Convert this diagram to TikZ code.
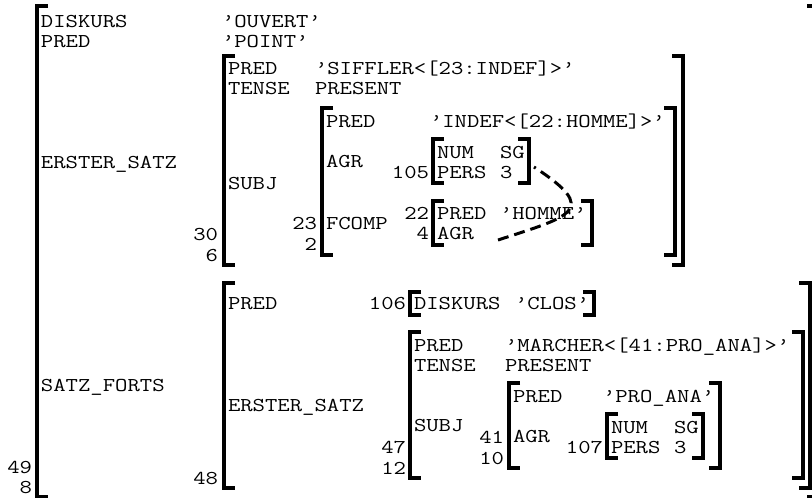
\documentclass[tikz,border=0pt]{standalone}
\tikzset{
  t/.style={anchor=base west, inner sep=0pt, outer sep=0pt, yshift=-6pt, xscale=1.225, font=\fontsize{19.6}{20}\selectfont\ttfamily},
  tl/.style={t, anchor=base east},
  brk/.style={line width=3.2pt, line join=miter},
  share/.style={line width=3pt, dash pattern=on 11pt off 6pt}
}
\newcommand\LB[3]{\draw[brk] (#1+11,#2) -- (#1,#2) -- (#1,#3) -- (#1+11,#3);}
\newcommand\RB[3]{\draw[brk] (#1-11,#2) -- (#1,#2) -- (#1,#3) -- (#1-11,#3);}
\begin{document}
\begin{tikzpicture}[x=1pt,y=-1pt]
\useasboundingbox (0,0) rectangle (812,498);
% ---------- outer f-structure
\LB{37}{6}{497}
\RB{818}{6}{497}
\node[t] (o1a) at (41,21) {DISKURS};
\node[t] (o1v) at (222,21) {’OUVERT’};
\node[t] (o2a) at (41,41.5) {PRED};
\node[t] (o2v) at (222,41.5) {’POINT’};
\node[t] (o3a) at (41,162) {ERSTER\_SATZ};
\node[t] (o4a) at (41,385.5) {SATZ\_FORTS};
\node[tl] (l49) at (32,467) {49};
\node[tl] (l8) at (32,487.5) {8};
% ---------- ERSTER_SATZ value (30/6)
\LB{224}{56}{265}
\RB{683}{56}{265}
\node[t] (a1a) at (228,68) {PRED};
\node[t] (a1v) at (315,68) {’SIFFLER<[23:INDEF]>’};
\node[t] (a2a) at (228,88.5) {TENSE};
\node[t] (a2v) at (315,88.5) {PRESENT};
\node[t] (a3a) at (228,183.5) {SUBJ};
\node[tl] (l30) at (218,234.5) {30};
\node[tl] (l6) at (218,255) {6};
% ---------- SUBJ value (23/2)
\LB{322}{108}{255}
\RB{675}{108}{255}
\node[t] (b1a) at (326,121.5) {PRED};
\node[t] (b1v) at (430,121.5) {’INDEF<[22:HOMME]>’};
\node[t] (b2a) at (326,161) {AGR};
\node[t] (b3a) at (326,223) {FCOMP};
\node[tl] (l23) at (317,223) {23};
\node[tl] (l2) at (317,244) {2};
% ---------- AGR value (105)
\LB{433}{139}{183}
\RB{529}{139}{183}
\node[t] (c1a) at (437,152) {NUM};
\node[t] (c1v) at (500,152) {SG};
\node[t] (c2a) at (437,172.5) {PERS};
\node[t] (c2v) at (500,172.5) {3};
\node[tl] (l105) at (429,172.5) {105};
% ---------- FCOMP value (22/4)
\LB{433}{201}{245}
\RB{592}{201}{245}
\node[t] (d1a) at (437,213) {PRED};
\node[t] (d1v) at (500,213) {’HOMME’};
\node[t] (d2a) at (437,233.5) {AGR};
\node[tl] (l22) at (429,213) {22};
\node[tl] (l4) at (429,233.5) {4};
% ---------- structure sharing
\coordinate (agr22) at (498,240);
\coordinate (f105) at (534,167);
\draw[share] (agr22) .. controls (572,216) and (600,210) .. (f105);
% ---------- SATZ_FORTS value (48)
\LB{224}{283}{488}
\RB{810}{283}{488}
\node[t] (e1a) at (228,303) {PRED};
\node[t] (e2a) at (228,405) {ERSTER\_SATZ};
\node[tl] (l48) at (218,478) {48};
% ---------- PRED value (106)
\LB{410}{292}{315}
\RB{594}{292}{315}
\node[tl] (l106) at (406,303) {106};
\node[t] (f1a) at (414,303) {DISKURS};
\node[t] (f1v) at (515,303) {’CLOS’};
% ---------- ERSTER_SATZ value (47/12)
\LB{410}{332}{478}
\RB{803}{332}{478}
\node[t] (g1a) at (414,345) {PRED};
\node[t] (g1v) at (505,345) {’MARCHER<[41:PRO\_ANA]>’};
\node[t] (g2a) at (414,365.5) {TENSE};
\node[t] (g2v) at (505,365.5) {PRESENT};
\node[t] (g3a) at (414,425.5) {SUBJ};
\node[tl] (l47) at (406,447.5) {47};
\node[tl] (l12) at (406,468) {12};
% ---------- SUBJ value (41/10)
\LB{509}{383}{468}
\RB{720}{383}{468}
\node[t] (h1a) at (513,396) {PRED};
\node[t] (h1v) at (603,396) {’PRO\_ANA’};
\node[t] (h2a) at (513,436) {AGR};
\node[tl] (l41) at (504,437.5) {41};
\node[tl] (l10) at (504,458) {10};
% ---------- AGR value (107)
\LB{607}{414}{458}
\RB{703}{414}{458}
\node[t] (k1a) at (611,427) {NUM};
\node[t] (k1v) at (674,427) {SG};
\node[t] (k2a) at (611,447.5) {PERS};
\node[t] (k2v) at (674,447.5) {3};
\node[tl] (l107) at (603,447.5) {107};
\end{tikzpicture}
\end{document}
